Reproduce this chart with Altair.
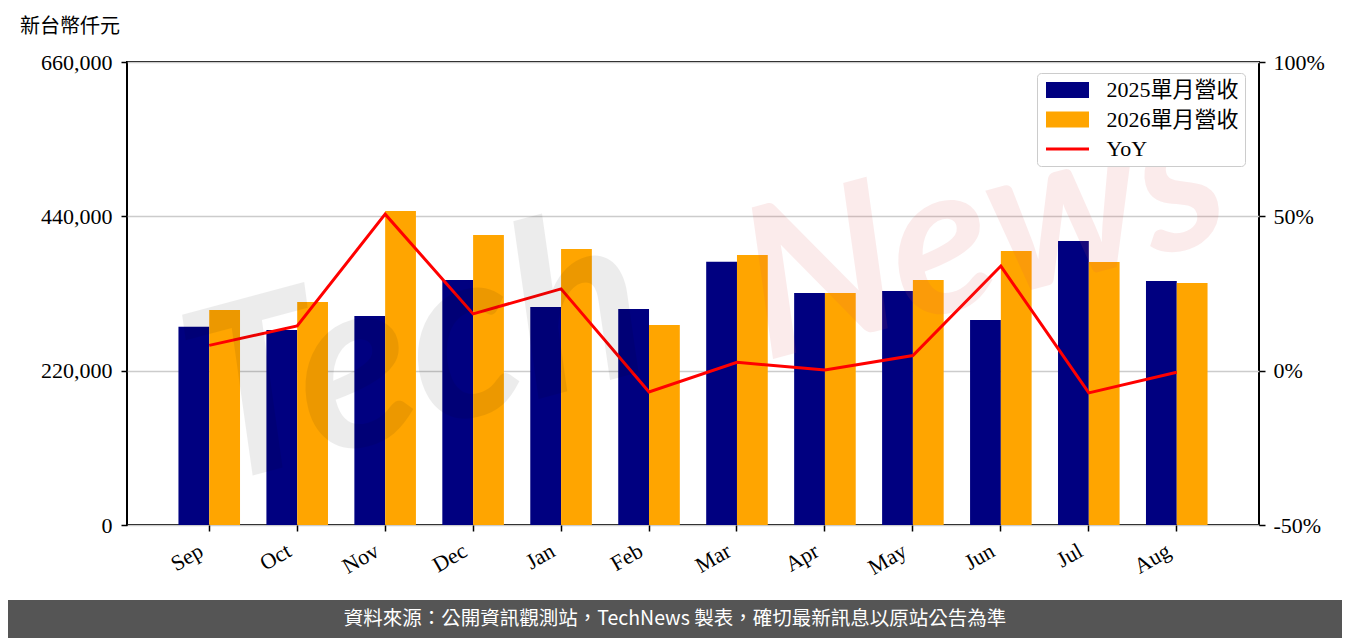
import altair as alt
import pandas as pd

months = ["Sep", "Oct", "Nov", "Dec", "Jan", "Feb", "Mar", "Apr", "May", "Jun", "Jul", "Aug"]
rev_2025 = [282700, 278000, 297900, 349200, 310800, 307900, 375300, 330700, 333600, 292200, 404800, 347800]
rev_2026 = [306500, 317900, 447600, 413400, 393400, 285100, 384900, 330700, 349200, 390600, 374900, 345000]
yoy = [0.082, 0.145, 0.507, 0.184, 0.265, -0.069, 0.027, 0.002, 0.049, 0.339, -0.072, -0.005]
series_names = ["2025單月營收", "2026單月營收", "YoY"]
colors = ["#000080", "#FFA500", "#FF0000"]
left_ticks = [0, 220000, 440000, 660000]
right_ticks = [-0.5, 0, 0.5, 1.0]
unit_title = "新台幣仟元"
footer = "資料來源：公開資訊觀測站，TechNews 製表，確切最新訊息以原站公告為準"

SERIF = "Liberation Serif, Noto Sans CJK TC, serif"
CJK = "Noto Sans CJK TC, sans-serif"

bars = pd.DataFrame({
    "month": months * 2,
    "series": [series_names[0]] * len(months) + [series_names[1]] * len(months),
    "value": rev_2025 + rev_2026,
})
line_df = pd.DataFrame({"month": months, "series": ["YoY"] * len(months), "yoy": yoy})
dummy = pd.DataFrame({"k": [0]})

RECT = "M-2.15,-0.8L2.15,-0.8L2.15,0.8L-2.15,0.8Z"
LINE = "M-2.15,-0.15L2.15,-0.15L2.15,0.15L-2.15,0.15Z"

color_scale = alt.Scale(domain=series_names, range=colors)
shape_scale = alt.Scale(domain=series_names, range=[RECT, RECT, LINE])

leg = alt.Legend(
    title=None, orient="none", legendX=910, legendY=11, padding=6,
    fillColor="white", strokeColor="#cccccc", cornerRadius=4,
    labelFont=SERIF, labelFontSize=22, labelColor="black",
    symbolSize=400, symbolStrokeWidth=0, symbolOffset=13.5, labelOffset=28,
    rowPadding=7.5, symbolOpacity=1,
)

x_enc = alt.X(
    "month:N", sort=months,
    scale=alt.Scale(paddingInner=0.3, paddingOuter=0.585),
    axis=alt.Axis(title=None, labelAngle=330, labelAlign="right", labelBaseline="top",
                  labelFontSize=22, labelPadding=9, labelOffset=-13, bandPosition=0.5, grid=False),
)

bar = alt.Chart(bars).mark_bar().encode(
    x=x_enc,
    xOffset=alt.XOffset("series:N", sort=series_names[:2],
                        scale=alt.Scale(paddingInner=0, paddingOuter=0)),
    y=alt.Y("value:Q", scale=alt.Scale(domain=[0, 660000], nice=False),
            axis=alt.Axis(orient="left", values=left_ticks, title=None, grid=True,
                          labelPadding=9, labelExpr="format(datum.value, ',')")),
    color=alt.Color("series:N", scale=color_scale, legend=leg),
)

line = alt.Chart(line_df).mark_line(strokeWidth=3).encode(
    x=x_enc,
    y=alt.Y("yoy:Q", scale=alt.Scale(domain=[-0.5, 1.0], nice=False, zero=False),
            axis=alt.Axis(orient="right", values=right_ticks, title=None, grid=False, labelPadding=8,
                          labelExpr="(datum.value < 0 ? '-' : '') + abs(round(datum.value*100)) + '%'")),
    color=alt.Color("series:N", scale=color_scale, legend=leg),
)

pts = alt.Chart(line_df).transform_filter("false").mark_point(filled=True).encode(
    color=alt.Color("series:N", scale=color_scale, legend=leg),
    shape=alt.Shape("series:N", scale=shape_scale, legend=leg),
)

wm1 = alt.Chart(dummy).mark_text(
    text="Tech", font="Lato", fontSize=240, fontStyle="italic", fontWeight="bold",
    angle=345, color="black", opacity=0.07, align="center", baseline="middle",
).encode(x=alt.value(290), y=alt.value(295))

wm2 = alt.Chart(dummy).mark_text(
    text="News", font="Lato", fontSize=210, fontStyle="italic", fontWeight="bold",
    angle=345, color="#e05050", opacity=0.11, align="center", baseline="middle",
).encode(x=alt.value(858), y=alt.value(175))

title_t = alt.Chart(dummy).mark_text(
    text=unit_title, font=CJK, fontSize=20, align="left", baseline="middle", color="black",
).encode(x=alt.value(-107), y=alt.value(-35))

foot_rect = alt.Chart(dummy).mark_rect(color="#555555").encode(
    x=alt.value(-119), x2=alt.value(1215), y=alt.value(538), y2=alt.value(590))

foot_text = alt.Chart(dummy).mark_text(
    text=footer, font=CJK, fontSize=19.5, color="white", align="center", baseline="middle",
).encode(x=alt.value(548), y=alt.value(557))

chart = alt.layer(bar, line, pts, wm1, wm2, title_t, foot_rect, foot_text).resolve_scale(
    y="independent"
).properties(
    width=1132, height=463,
    padding={"left": 119, "top": 54, "right": 83, "bottom": 113},
    autosize=alt.AutoSizeParams(type="none"),
    background="white",
).configure_view(
    stroke="black", strokeWidth=2
).configure_axis(
    labelFont=SERIF, labelFontSize=22, labelColor="black",
    tickColor="black", tickWidth=1.5, tickSize=6, domain=False,
    labelPadding=6, gridColor="#cccccc", gridWidth=1.5,
)

chart.save("out.html", embed_options={"renderer": "svg", "actions": False})
